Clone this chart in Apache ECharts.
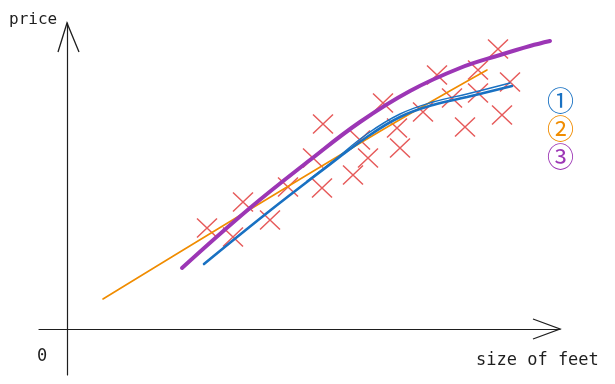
<!DOCTYPE html>
<html>
<head>
<meta charset="utf-8">
<script src="https://cdn.jsdelivr.net/npm/echarts@6/dist/echarts.min.js"></script>
<style>html,body{margin:0;padding:0;background:#fff}#c{width:615px;height:384px}</style>
</head>
<body>
<div id="c"></div>
<script>
// Observed samples: [size, price]
var samples = [
  [140,101],[176,127],[166,92],[203,109],[221,142],[246,171],[255,141],[256,205],
  [286,154],[293,189],[301,171],[316,226],[330,201],[333,181],[356,217],[370,254],
  [385,231],[398,202],[411,259],[411,236],[431,280],[443,247],[435,214]
];
// Fitted curves
var fit1 = [[137,65],[200,116],[253,157],[300,192],[333,212],[366,224],[400,232],[445,243]];
var fit1b = [[240,148],[266,168],[300,195],[333,215],[366,227],[400,235],[443,246]];
var fit2 = [[36,30],[300,190],[420,259]];
var fit3 = [[115,61],[183,121],[243,169],[293,207],[343,238],[393,261],[433,274],[463,283],[483,288]];
var legendNames = ['①','②','③'];
var xName = 'size of feet', yName = 'price', originLabel = '0';

var BLUE = '#1971c2', ORANGE = '#f08c00', PURPLE = '#9c36b5', RED = '#e03131', INK = '#1e1e1e';
var hand = '"DejaVu Sans Mono", "Liberation Mono", monospace';

var chart = echarts.init(document.getElementById('c'), null, {renderer: 'canvas'});
var cross = 'path://M0,0L10,10M10,0L0,10';
chart.setOption({
  animation: false,
  grid: {left: 39, right: 55, top: 23, bottom: 9},
  xAxis: {
    type: 'value', min: -28, max: 493,
    axisLine: {onZero: true, lineStyle: {color: INK, width: 1.2}},
    axisTick: {show: false}, axisLabel: {show: false}, splitLine: {show: false}
  },
  yAxis: {
    type: 'value', min: -46, max: 306,
    axisLine: {onZero: true, lineStyle: {color: INK, width: 1.2}},
    axisTick: {show: false}, axisLabel: {show: false}, splitLine: {show: false}
  },
  legend: {
    orient: 'vertical', left: 542, top: 87, itemGap: 0, padding: 0,
    icon: 'none', itemWidth: 0, itemHeight: 0,
    textStyle: {fontFamily: 'Noto Sans CJK SC', fontSize: 27, lineHeight: 28},
    data: [
      {name: legendNames[0], textStyle: {color: BLUE}},
      {name: legendNames[1], textStyle: {color: ORANGE}},
      {name: legendNames[2], textStyle: {color: PURPLE}}
    ],
    selectedMode: false
  },
  series: [
    {type: 'scatter', name: 'samples', data: samples, symbol: cross, symbolSize: [20, 19],
     itemStyle: {color: 'rgba(0,0,0,0)', borderColor: RED, borderWidth: 1.4}, z: 3},
    {type: 'line', name: legendNames[1], data: fit2, symbol: 'none', smooth: 0.4,
     lineStyle: {color: ORANGE, width: 1.6, cap: 'round'}, z: 4},
    {type: 'line', name: legendNames[0], data: fit1, symbol: 'none', smooth: 0.4,
     lineStyle: {color: BLUE, width: 2.6, cap: 'round'}, z: 5},
    {type: 'line', name: legendNames[0], data: fit1b, symbol: 'none', smooth: 0.4,
     lineStyle: {color: BLUE, width: 1.4, cap: 'round'}, z: 5},
    {type: 'line', name: legendNames[2], data: fit3, symbol: 'none', smooth: 0.4,
     lineStyle: {color: PURPLE, width: 4, cap: 'round'}, z: 6}
  ]
});

var xEnd = chart.convertToPixel({gridIndex: 0}, [493, 0]);
var yEnd = chart.convertToPixel({gridIndex: 0}, [0, 306]);
chart.setOption({
  graphic: [
    {type: 'polyline', shape: {points: [[xEnd[0]-27, xEnd[1]-10], [xEnd[0], xEnd[1]], [xEnd[0]-27, xEnd[1]+10]]},
     style: {stroke: INK, lineWidth: 1.3, fill: null}},
    {type: 'polyline', shape: {points: [[yEnd[0]-9, yEnd[1]+29], [yEnd[0], yEnd[1]], [yEnd[0]+12, yEnd[1]+29]]},
     style: {stroke: INK, lineWidth: 1.3, fill: null}},
    {type: 'text', left: 9, top: 12, style: {text: yName, fill: INK, font: '16px ' + hand}},
    {type: 'text', left: 476, top: 352, style: {text: xName, fill: INK, font: '17px ' + hand}},
    {type: 'text', left: 37, top: 348, style: {text: originLabel, fill: INK, font: '17px ' + hand}}
  ]
});
</script>
</body>
</html>
